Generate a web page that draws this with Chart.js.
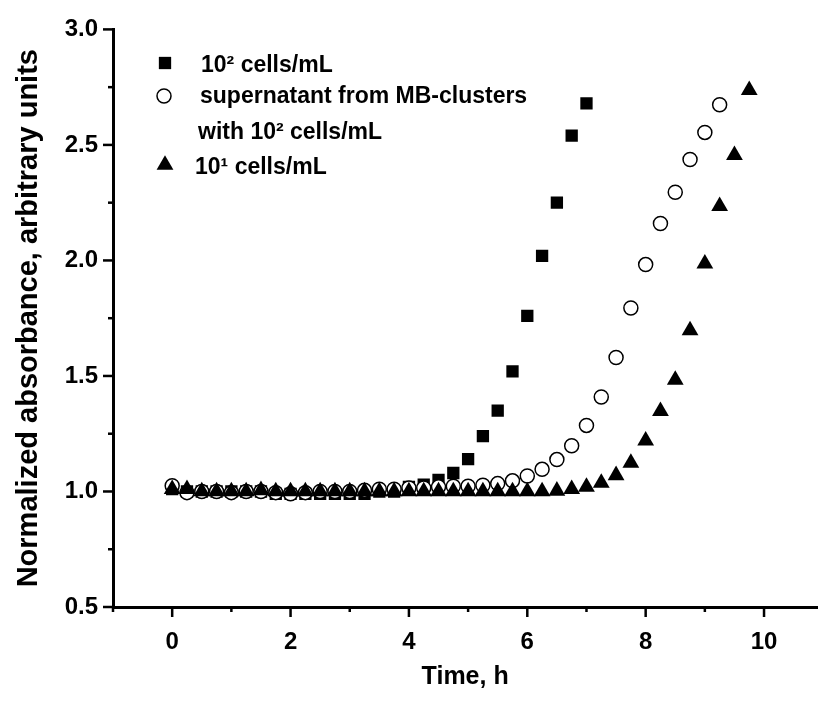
<!DOCTYPE html>
<html>
<head>
<meta charset="utf-8">
<script src="https://cdn.jsdelivr.net/npm/chart.js@4"></script>
<style>
  html, body { margin: 0; padding: 0; background: #fff; }
  #wrap { width: 827px; height: 708px; }
</style>
</head>
<body>
<div id="wrap"><canvas id="chart" width="827" height="708"></canvas></div>
<script>
// sampling times, h
const timeH = [0, 0.25, 0.5, 0.75, 1, 1.25, 1.5, 1.75, 2, 2.25, 2.5, 2.75, 3, 3.25, 3.5, 3.75,
  4, 4.25, 4.5, 4.75, 5, 5.25, 5.5, 5.75, 6, 6.25, 6.5, 6.75, 7, 7.25, 7.5, 7.75,
  8, 8.25, 8.5, 8.75, 9, 9.25, 9.5, 9.75];

// 10^2 cells/mL
const cells100 = [1.01, 1.00, 1.00, 1.00, 1.00, 1.00, 1.00, 0.99, 0.99, 0.99, 0.99, 0.99, 0.99, 0.99, 1.00, 1.00,
  1.02, 1.03, 1.05, 1.08, 1.14, 1.24, 1.35, 1.52, 1.76, 2.02, 2.25, 2.54, 2.68];

// supernatant from MB-clusters with 10^2 cells/mL
const supernatant = [1.025, 0.995, 1.00, 1.00, 0.995, 1.00, 1.00, 0.995, 0.99, 0.995, 1.00, 1.00, 1.00, 1.005, 1.01, 1.01,
  1.015, 1.015, 1.02, 1.023, 1.023, 1.027, 1.034, 1.046, 1.067, 1.096, 1.138, 1.198, 1.286, 1.409, 1.58, 1.794,
  1.982, 2.16, 2.295, 2.437, 2.554, 2.674];

// 10^1 cells/mL
const cells10 = [1.01, 1.01, 1.00, 1.00, 1.00, 1.00, 1.005, 1.00, 1.00, 1.00, 1.00, 1.00, 1.00, 1.00, 1.00, 1.00,
  1.00, 1.00, 1.00, 1.00, 1.00, 1.00, 1.00, 1.00, 1.00, 1.00, 1.003, 1.01, 1.02, 1.037, 1.07, 1.124,
  1.22, 1.348, 1.483, 1.697, 1.986, 2.235, 2.456, 2.737];

const xMajor = [0, 2, 4, 6, 8, 10];
const xMinor = [-1, 1, 3, 5, 7, 9];
const yMajor = [0.5, 1.0, 1.5, 2.0, 2.5, 3.0];
const yMinor = [0.75, 1.25, 1.75, 2.25, 2.75];

const labels = ['10\u00B2 cells/mL', ['supernatant from MB-clusters', 'with 10\u00B2 cells/mL'], '10\u00B9 cells/mL'];

const FONT = 'Liberation Sans, Arial, sans-serif';

function toPoints(values) {
  return values.map((v, i) => ({x: timeH[i], y: v}));
}

const datasets = [
  {label: labels[0], data: toPoints(cells100), pointStyle: 'rect', pointRadius: 8.7,
   backgroundColor: '#000', borderColor: '#000', borderWidth: 0, order: 2},
  {label: labels[1], data: toPoints(supernatant), pointStyle: 'circle', pointRadius: 7,
   backgroundColor: '#fff', borderColor: '#000', borderWidth: 1.5, order: 1},
  {label: labels[2], data: toPoints(cells10), pointStyle: 'triangle', pointRadius: 9.7,
   backgroundColor: '#000', borderColor: '#000', borderWidth: 0, order: 0}
];

// short outward tick marks: long for labelled values, short for minor ones
const tickMarks = {
  id: 'tickMarks',
  afterDraw(chart) {
    const {ctx, scales: {x, y}} = chart;
    ctx.save();
    ctx.strokeStyle = '#000';
    ctx.lineWidth = 2.5;
    x.ticks.forEach(t => {
      const px = x.getPixelForValue(t.value);
      const len = xMajor.includes(t.value) ? 10 : 5;
      ctx.beginPath(); ctx.moveTo(px, x.top); ctx.lineTo(px, x.top + len); ctx.stroke();
    });
    y.ticks.forEach(t => {
      const py = y.getPixelForValue(t.value);
      const len = yMajor.includes(t.value) ? 10 : 5;
      ctx.beginPath(); ctx.moveTo(y.right, py); ctx.lineTo(y.right - len, py); ctx.stroke();
    });
    ctx.restore();
  }
};

// legend inside the plot, upper left
const insideLegend = {
  id: 'insideLegend',
  afterDraw(chart) {
    const ctx = chart.ctx;
    const rows = [
      {ds: 0, mx: 165, my: 63, lines: [[201, 72]]},
      {ds: 1, mx: 164, my: 96, lines: [[200, 103], [198, 139]]},
      {ds: 2, mx: 165, my: 165, lines: [[195, 174]]}
    ];
    ctx.save();
    ctx.font = 'bold 23px ' + FONT;
    ctx.textBaseline = 'alphabetic';
    rows.forEach(r => {
      const ds = chart.data.datasets[r.ds];
      ctx.fillStyle = ds.backgroundColor;
      ctx.strokeStyle = ds.borderColor;
      ctx.lineWidth = ds.borderWidth;
      Chart.helpers.drawPoint(ctx, {pointStyle: ds.pointStyle, radius: ds.pointRadius,
        rotation: 0, borderWidth: ds.borderWidth}, r.mx, r.my);
      ctx.fillStyle = '#000';
      const text = Array.isArray(ds.label) ? ds.label : [ds.label];
      r.lines.forEach((p, i) => ctx.fillText(text[i], p[0], p[1]));
    });
    ctx.restore();
  }
};

new Chart(document.getElementById('chart'), {
  type: 'scatter',
  data: {datasets},
  options: {
    responsive: false,
    devicePixelRatio: 1,
    animation: false,
    layout: {padding: {top: 22, right: 0, bottom: 0, left: 0}},
    plugins: {legend: {display: false}, tooltip: {enabled: false}},
    scales: {
      x: {
        type: 'linear', min: -1, max: 10.9,
        afterBuildTicks: s => { s.ticks = xMajor.concat(xMinor).sort((a, b) => a - b).map(v => ({value: v})); },
        afterFit: s => { s.height = 101; },
        grid: {display: false, drawTicks: false},
        border: {display: true, width: 3, color: '#000'},
        ticks: {
          autoSkip: false, maxRotation: 0, padding: 21, color: '#000',
          font: {family: FONT, size: 24, weight: 'bold'},
          callback: v => xMajor.includes(v) ? String(v) : ''
        },
        title: {display: true, text: 'Time, h', color: '#000',
          font: {family: FONT, size: 25, weight: 'bold'}, padding: {top: 0, bottom: 16}}
      },
      y: {
        type: 'linear', min: 0.5, max: 3.0,
        afterBuildTicks: s => { s.ticks = yMajor.concat(yMinor).sort((a, b) => a - b).map(v => ({value: v})); },
        afterFit: s => { s.width = 113; },
        grid: {display: false, drawTicks: false},
        border: {display: true, width: 3, color: '#000'},
        ticks: {
          autoSkip: false, padding: 15, color: '#000',
          font: {family: FONT, size: 24, weight: 'bold'},
          callback: v => yMajor.includes(v) ? v.toFixed(1) : ''
        },
        title: {display: true, text: 'Normalized absorbance, arbitrary units', color: '#000',
          font: {family: FONT, size: 29, weight: 'bold'}, padding: {top: 12, bottom: 0}}
      }
    }
  },
  plugins: [tickMarks, insideLegend]
});
</script>
</body>
</html>
